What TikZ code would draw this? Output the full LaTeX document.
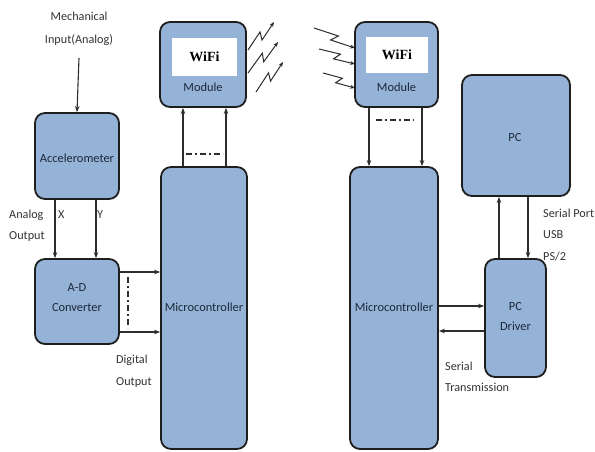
\documentclass[tikz,border=0pt]{standalone}
\usepackage{fontspec}
\setmainfont{Carlito}
\newfontfamily\wififont{Liberation Serif}
\usetikzlibrary{arrows.meta,calc}
\definecolor{boxfill}{RGB}{149,179,215}
\definecolor{boxline}{RGB}{30,30,30}
\definecolor{txt}{RGB}{28,40,58}
\definecolor{lbl}{RGB}{50,50,50}
\definecolor{arrc}{RGB}{45,45,45}
\newcommand{\zz}[2]{\draw[sq] (#1) -- ($(#1)!0.56!(#2)!3.5pt!90:(#2)$) -- ($(#1)!0.44!(#2)!3.5pt!-90:(#2)$) -- (#2);}
\begin{document}
\begin{tikzpicture}[x=1pt,y=-1pt,
 blk/.style={draw=boxline, line width=1.8pt, fill=boxfill, rounded corners=10pt, inner sep=0pt},
 btxt/.style={text=txt, font=\fontsize{12.4}{20}\selectfont, align=center, inner sep=0pt},
 lab/.style={text=lbl, font=\fontsize{12.2}{21.5}\selectfont, align=left, inner sep=0pt, anchor=west},
 wbox/.style={fill=white, draw=none, inner sep=0pt, minimum width=65pt, minimum height=38pt, font=\wififont\bfseries\fontsize{14}{16}\selectfont, text=black},
 arr/.style={draw=arrc, line width=1.1pt, -{Stealth[length=6pt,width=4.5pt]}},
 sq/.style={draw=arrc, line width=1pt, -{Stealth[length=5pt,width=4pt]}},
 dd/.style={draw=arrc, line width=1.5pt, dash pattern=on 6pt off 3pt on 2pt off 3pt}
]
\useasboundingbox (0,0) rectangle (595,451);

% blocks
\node[blk, minimum width=86pt, minimum height=85pt] (wifiL) at (203,64.5) {};
\node[wbox] (wifiLw) at (204.5,57) {WiFi};
\node[btxt] (wifiLm) at (203,87) {Module};

\node[blk, minimum width=84pt, minimum height=86pt] (accel) at (77,156) {};
\node[btxt] (accelt) at (77,158) {Accelerometer};

\node[blk, minimum width=84pt, minimum height=85pt] (adc) at (77,301.5) {};
\node[btxt] (adct) at (77,298) {A-D\\Converter};

\node[blk, minimum width=86pt, minimum height=282pt] (mcL) at (204,308) {};
\node[btxt] (mcLt) at (204,307) {Microcontroller};

\node[blk, minimum width=83pt, minimum height=85pt] (wifiR) at (396.5,64.5) {};
\node[wbox, minimum width=62pt, minimum height=36pt] (wifiRw) at (397,55) {WiFi};
\node[btxt] (wifiRm) at (396.5,87) {Module};

\node[blk, minimum width=88pt, minimum height=282pt] (mcR) at (394,308) {};
\node[btxt] (mcRt) at (394,307) {Microcontroller};

\node[blk, minimum width=108pt, minimum height=121pt] (pc) at (516,135.5) {};
\node[btxt] (pct) at (515,138) {PC};

\node[blk, minimum width=61pt, minimum height=118pt] (drv) at (515.5,318) {};
\node[btxt] (drvt) at (515.5,317) {PC\\Driver};

% labels
\node[text=lbl, font=\fontsize{12.2}{23}\selectfont, align=center, inner sep=0pt] (mech) at (79,29) {Mechanical\\Input(Analog)};
\node[lab] (aout) at (9,225.5) {Analog\\Output};
\node[lab] (xl) at (58,215) {X};
\node[lab] (yl) at (97,215) {Y};
\node[lab] (dout) at (116,371) {Digital\\Output};
\node[lab] (sport) at (543,235) {Serial Port\\USB\\PS/2};
\node[lab] (stx) at (445,377) {Serial\\Transmission};

% connectors
\draw[arr] (mech.south |- 0,58) -- (accel.north);
\draw[arr] ([xshift=-22pt]accel.south) -- ([xshift=-22pt]adc.north);
\draw[arr] ([xshift=19pt]accel.south) -- ([xshift=19pt]adc.north);
\draw[arr] ([yshift=29.5pt]adc.east) -- ([yshift=29.5pt]adc.east -| mcL.west);
\draw[arr] ([yshift=-30.5pt]adc.east) -- ([yshift=-30.5pt]adc.east -| mcL.west);
\draw[dd] (128,277) -- (128,328);

\draw[arr] ([xshift=-21pt]mcL.north) -- ([xshift=-21pt]mcL.north |- wifiL.south);
\draw[arr] ([xshift=22pt]mcL.north) -- ([xshift=22pt]mcL.north |- wifiL.south);
\draw[dd] (186,154) -- (223,154);

\draw[arr] ([xshift=-27.5pt]wifiR.south) -- ([xshift=-27.5pt]wifiR.south |- mcR.north);
\draw[arr] ([xshift=25.5pt]wifiR.south) -- ([xshift=25.5pt]wifiR.south |- mcR.north);
\draw[dd] (376,120) -- (414,120);

\draw[arr] ([xshift=-17pt]drv.north -| pc.south) -- ([xshift=-17pt]pc.south);
\draw[arr] ([xshift=12pt]pc.south) -- ([xshift=12pt]pc.south |- drv.north);

\draw[arr] ([yshift=12pt]mcR.east |- drv.center) -- ([yshift=12pt]drv.west);
\draw[arr] ([yshift=-13pt]drv.west) -- ([yshift=-13pt]mcR.east |- drv.center);

% wireless squiggles
\coordinate (l1a) at (248,50);  \coordinate (l1b) at (274,22);
\coordinate (l2a) at (248,73);  \coordinate (l2b) at (278,42);
\coordinate (l3a) at (256,92);  \coordinate (l3b) at (283,62);
\coordinate (r1a) at (314,28);  \coordinate (r1b) at (355,48);
\coordinate (r2a) at (319,49);  \coordinate (r2b) at (355,64);
\coordinate (r3a) at (323,73);  \coordinate (r3b) at (355,88);
\zz{l1a}{l1b}
\zz{l2a}{l2b}
\zz{l3a}{l3b}
\zz{r1a}{r1b}
\zz{r2a}{r2b}
\zz{r3a}{r3b}
\end{tikzpicture}
\end{document}
